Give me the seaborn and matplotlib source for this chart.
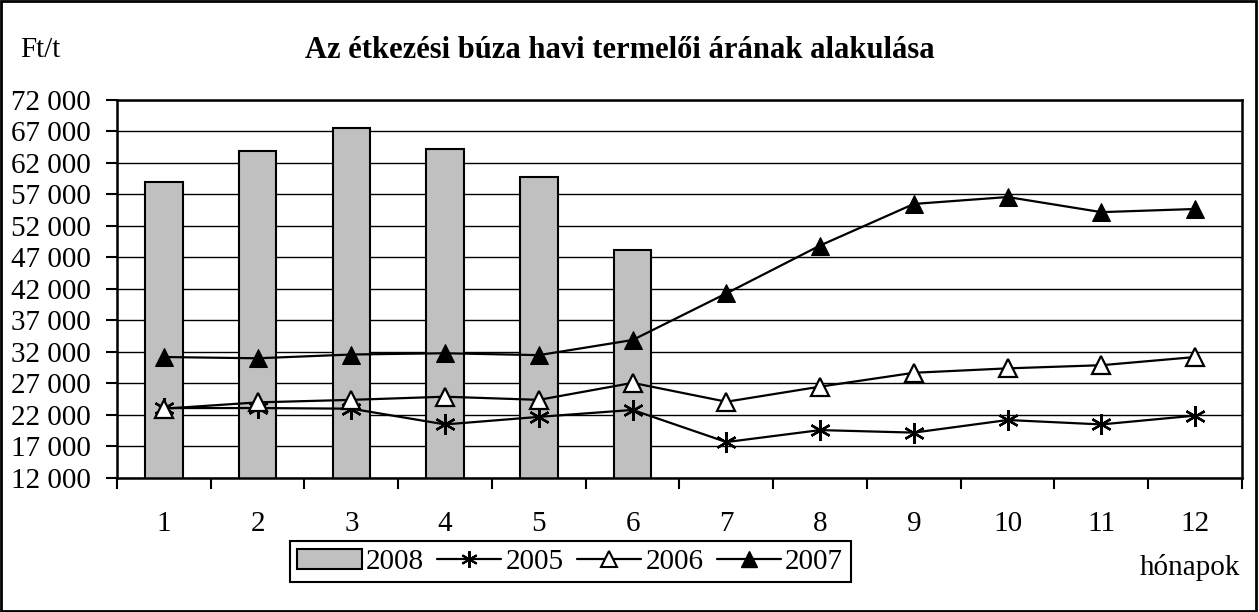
import numpy as np
import pandas as pd
import seaborn as sns
import matplotlib.pyplot as plt
from matplotlib.patches import Rectangle, Patch
from matplotlib.lines import Line2D
from matplotlib.ticker import FuncFormatter, MultipleLocator

# data (Ft/t)
months = [str(m) for m in range(1, 13)]
months_2008 = ["1", "2", "3", "4", "5", "6"]
price_2008 = [59000, 63900, 67500, 64200, 59800, 48200]
price_2005 = [23100, 23100, 23000, 20500, 21700, 22800, 17700, 19600, 19200, 21200, 20500, 21900]
price_2006 = [23000, 24000, 24400, 24900, 24400, 27100, 24100, 26500, 28700, 29400, 29900, 31200]
price_2007 = [31200, 31000, 31600, 31800, 31500, 33900, 41300, 48900, 55500, 56600, 54200, 54700]
y_ticks = list(range(12000, 72001, 5000))

sns.set_theme(style="white")
plt.rcParams["font.family"] = ["Liberation Serif", "DejaVu Serif"]
plt.rcParams["font.size"] = 21
plt.rcParams["text.color"] = "black"
plt.rcParams["xtick.color"] = "black"
plt.rcParams["ytick.color"] = "black"

fig = plt.figure(figsize=(12.59, 6.12), dpi=100)
ax = fig.add_axes([0.0929, 0.219, 0.8936, 0.6176])

# bars for 2008
sns.barplot(x=months_2008, y=price_2008, order=months, color="#C0C0C0",
            saturation=1, edgecolor="black", linewidth=1.5, width=0.4,
            errorbar=None, ax=ax, zorder=2)

pos = np.arange(len(months))
star = (6, 2, 0)
sns.lineplot(x=pos, y=price_2005, ax=ax, color="black", lw=1.6, marker=star,
             markersize=15, markeredgewidth=1.7, markeredgecolor="black", zorder=4)
sns.lineplot(x=pos, y=price_2006, ax=ax, color="black", lw=1.6, marker="^",
             markersize=13, markerfacecolor="white", markeredgecolor="black",
             markeredgewidth=1.6, zorder=5)
sns.lineplot(x=pos, y=price_2007, ax=ax, color="black", lw=1.6, marker="^",
             markersize=13, markerfacecolor="black", markeredgecolor="black", zorder=5)

ax.set_xlim(-0.5, 11.5)
ax.set_ylim(12000, 72000)
ax.set_yticks(y_ticks)
ax.yaxis.set_major_formatter(FuncFormatter(lambda v, p: f"{int(v):,}".replace(",", " ")))
ax.grid(axis="y", color="black", lw=1, zorder=0)
ax.set_axisbelow(True)
for s in ax.spines.values():
    s.set_color("black")
    s.set_linewidth(1.8)

ax.set_xticks(pos)
ax.set_xticklabels(months)
ax.xaxis.set_minor_locator(MultipleLocator(1, offset=0.5))
ax.tick_params(axis="x", which="major", length=0, pad=24, labelsize=21)
ax.tick_params(axis="x", which="minor", length=8, width=1.5, direction="out", bottom=True)
ax.tick_params(axis="y", length=8, width=1.5, direction="out", left=True, pad=11, labelsize=21)
ax.set_xlabel("")
ax.set_ylabel("")

fig.text(0.492, 0.917, "Az étkezési búza havi termelői árának alakulása",
         ha="center", va="center", fontsize=22, fontweight="bold")
fig.text(0.016, 0.918, "Ft/t", ha="left", va="center", fontsize=21)
fig.text(0.945, 0.073, "hónapok", ha="center", va="center", fontsize=21)

handles = [
    Patch(facecolor="#C0C0C0", edgecolor="black", lw=1.5, label="2008"),
    Line2D([], [], color="black", lw=1.6, marker=star, markersize=12, markeredgewidth=1.5, label="2005"),
    Line2D([], [], color="black", lw=1.6, marker="^", markersize=11, markerfacecolor="white",
           markeredgecolor="black", markeredgewidth=1.5, label="2006"),
    Line2D([], [], color="black", lw=1.6, marker="^", markersize=11, label="2007"),
]
leg = fig.legend(handles=handles, loc="center", bbox_to_anchor=(0.453, 0.0817), ncol=4,
                 frameon=True, fancybox=False, edgecolor="black", fontsize=21,
                 handlelength=2.2, handletextpad=0.15, columnspacing=0.45,
                 borderpad=0.25, framealpha=1)
leg.get_frame().set_linewidth(1.5)

fig.add_artist(Rectangle((0.001, 0.002), 0.997, 0.996, transform=fig.transFigure,
                         fill=False, lw=2, edgecolor="black"))

fig.savefig("out.png", dpi=100)
